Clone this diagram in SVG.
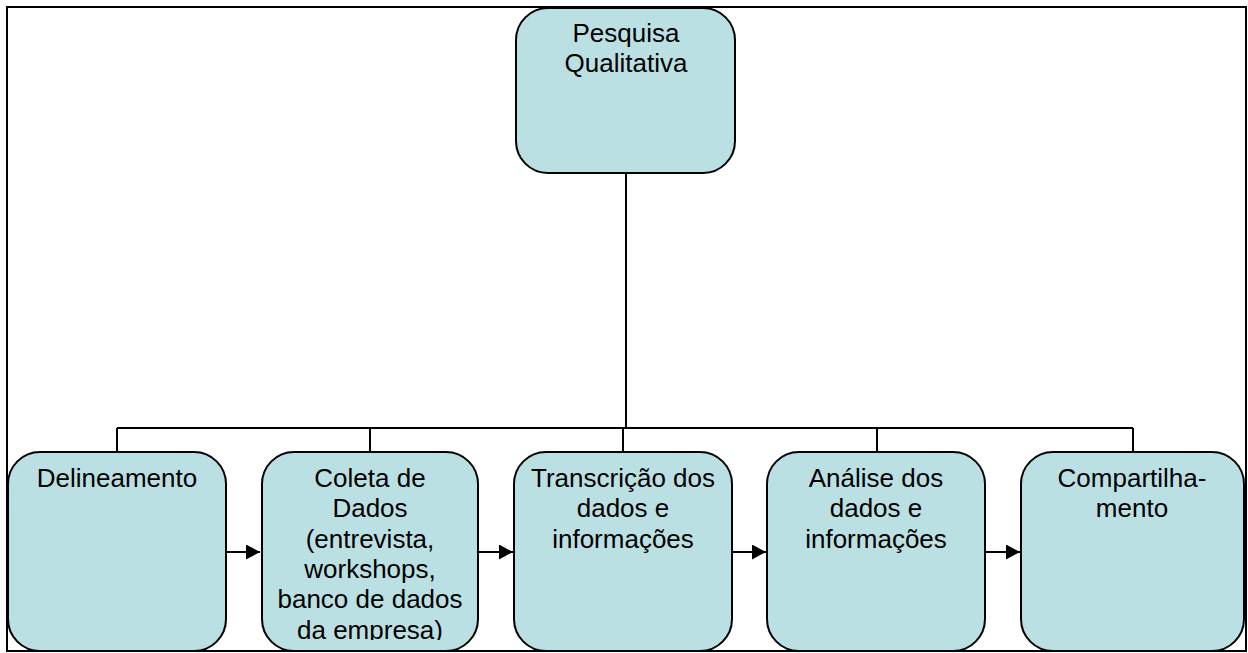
<svg xmlns="http://www.w3.org/2000/svg" width="1248" height="653" viewBox="0 0 1248 653">
<style>
.box{fill:#BBE0E3;stroke:#000;stroke-width:2}
.t{font-family:"Liberation Sans",Arial,sans-serif;font-size:26px;fill:#000;text-anchor:middle}
.ln{stroke:#000;stroke-width:2;fill:none}
</style>
<defs>
<marker id="ah" markerWidth="14" markerHeight="15" refX="14" refY="7.5" orient="auto" markerUnits="userSpaceOnUse">
<path d="M0,0 L14,7.5 L0,15 Z" fill="#000"/>
</marker>
<clipPath id="tc"><rect x="0" y="0" width="1248" height="640"/></clipPath>
</defs>
<rect x="0" y="0" width="1248" height="653" fill="#fff"/>
<rect x="7" y="7" width="1239" height="644" fill="none" stroke="#000" stroke-width="2"/>
<g id="connectors">
<path class="ln" d="M626,173 V428"/>
<path class="ln" d="M117,428 H1133"/>
<path class="ln" d="M117,428 V452 M370,428 V452 M623,428 V452 M877,428 V452 M1133,428 V452"/>
<path class="ln" d="M226,552 H260" marker-end="url(#ah)"/>
<path class="ln" d="M478,552 H513" marker-end="url(#ah)"/>
<path class="ln" d="M732,552 H766" marker-end="url(#ah)"/>
<path class="ln" d="M985,552 H1020" marker-end="url(#ah)"/>
</g>
<g id="n0">
<rect class="box" x="516" y="8" width="219" height="165" rx="32" ry="32"/>
<text class="t" x="626" y="42">Pesquisa</text>
<text class="t" x="626" y="72">Qualitativa</text>
</g>
<g id="n1">
<rect class="box" x="8" y="452" width="218" height="199" rx="32" ry="32"/>
<text class="t" x="117" y="487">Delineamento</text>
</g>
<g id="n2">
<rect class="box" x="262" y="452" width="216" height="199" rx="32" ry="32"/>
<g clip-path="url(#tc)">
<text class="t" x="370" y="487">Coleta de</text>
<text class="t" x="370" y="517">Dados</text>
<text class="t" x="370" y="548">(entrevista,</text>
<text class="t" x="370" y="578">workshops,</text>
<text class="t" x="370" y="608">banco de dados</text>
<text class="t" x="370" y="639">da empresa)</text>
</g>
</g>
<g id="n3">
<rect class="box" x="514" y="452" width="218" height="199" rx="32" ry="32"/>
<text class="t" x="623" y="487">Transcrição dos</text>
<text class="t" x="623" y="517">dados e</text>
<text class="t" x="623" y="548">informações</text>
</g>
<g id="n4">
<rect class="box" x="767" y="452" width="218" height="199" rx="32" ry="32"/>
<text class="t" x="876" y="487">Análise dos</text>
<text class="t" x="876" y="517">dados e</text>
<text class="t" x="876" y="548">informações</text>
</g>
<g id="n5">
<rect class="box" x="1021" y="452" width="223" height="199" rx="32" ry="32"/>
<text class="t" x="1132" y="487">Compartilha-</text>
<text class="t" x="1132" y="517">mento</text>
</g>
</svg>
